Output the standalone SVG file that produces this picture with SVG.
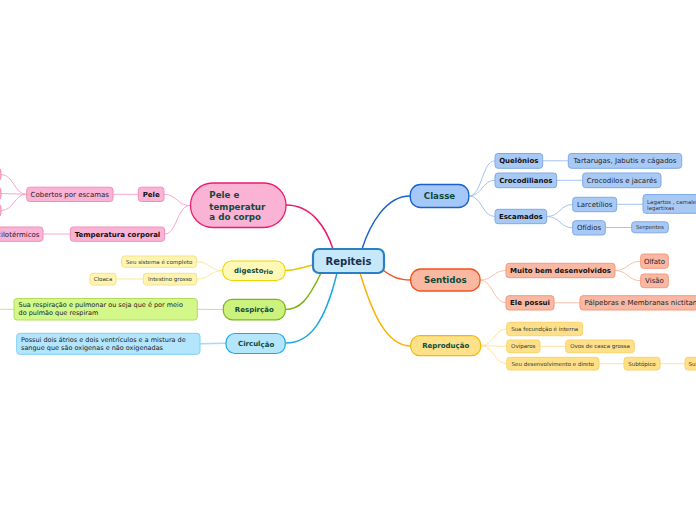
<svg xmlns="http://www.w3.org/2000/svg" width="696" height="520" viewBox="0 0 696 520">
<style>
text{font-family:"DejaVu Sans",Verdana,sans-serif}
.main{font-size:8.7px;font-weight:bold;fill:#0e4a3a}
.mainS{font-size:7px;font-weight:bold;fill:#0e4a3a}
.sb{font-size:7px;font-weight:bold;fill:#111}
.sn{font-size:7px;fill:#222}
.sm{font-size:6.5px;fill:#222}
.xs{font-size:5.5px;fill:#333}
.c{fill:none}
.pinkS{fill:#fbb3d5;stroke:#f48fb8;stroke-width:1}
.blueS{fill:#a9c9f5;stroke:#7fa9e8;stroke-width:1}
.oraS{fill:#f9b8a3;stroke:#f7987c;stroke-width:1}
.yelS{fill:#ffe08a;stroke:#fbd36a;stroke-width:1}
.ylS{fill:#fff5b0;stroke:#f3e38a;stroke-width:1}
.grnS{fill:#d4f78a;stroke:#b2de5a;stroke-width:1}
.cyS{fill:#b3e5fc;stroke:#7fd0f5;stroke-width:1}
</style>
<rect width="696" height="520" fill="#ffffff"/>
<g id="connectors" class="c">
  <path d="M333,249 C326,228 312,205 286,205" stroke="#ec1b6e" stroke-width="1.5"/>
  <path d="M362,249 C370,224 386,196 410,196" stroke="#1a62d0" stroke-width="1.5"/>
  <path d="M380,268 C392,277 398,280 411,280" stroke="#f4511e" stroke-width="1.5"/>
  <path d="M360,273 C372,312 386,346 411,346" stroke="#fbb300" stroke-width="1.5"/>
  <path d="M313,265 C300,268 295,270.5 285,270.5" stroke="#e3c800" stroke-width="1.5"/>
  <path d="M321,273 C308,300 300,309.5 285,309.5" stroke="#7cb518" stroke-width="1.5"/>
  <path d="M337,273 C325,322 310,343 286,343" stroke="#1ea7e0" stroke-width="1.5"/>
  <g stroke="#a6c4ee" stroke-width="1">
    <path d="M469,196 C482,196 482,160.8 495,160.8"/>
    <path d="M469,196 C482,196 482,180.3 495,180.3"/>
    <path d="M469,196 C482,196 482,216.5 495,216.5"/>
    <path d="M542.7,160.8 L568.3,160.8"/>
    <path d="M556.7,180.3 L582.7,180.3"/>
    <path d="M546.7,216.5 C560,216.5 560,204.5 572.7,204.5"/>
    <path d="M546.7,216.5 C560,216.5 560,227.8 572.7,227.8"/>
    <path d="M616.7,204.3 L643,204.3"/>
    <path d="M605.3,227.5 L631.7,227.5"/>
  </g>
  <g stroke="#fcbfa8" stroke-width="1">
    <path d="M480,280 C493,280 493,270.5 506,270.5"/>
    <path d="M480,280 C493,280 493,302.8 506,302.8"/>
    <path d="M615,270.5 C628,270.5 628,261.2 640.7,261.2"/>
    <path d="M615,270.5 C628,270.5 628,280.8 640.7,280.8"/>
    <path d="M554,302.8 L580,302.8"/>
  </g>
  <g stroke="#ffe29c" stroke-width="1">
    <path d="M480.7,345.7 C494,345.7 494,329 506.7,329"/>
    <path d="M480.7,345.7 C494,345.7 494,346.3 506.7,346.3"/>
    <path d="M480.7,345.7 C494,345.7 494,363.7 506.7,363.7"/>
    <path d="M540,346.3 L565.7,346.3"/>
    <path d="M599,363.7 L624,363.7"/>
    <path d="M660,363.7 L685,363.7"/>
  </g>
  <g stroke="#f8a8cb" stroke-width="1">
    <path d="M190,205.5 C177,205.5 177,194.3 164,194.3"/>
    <path d="M190,205.5 C177,205.5 177,234 164.7,234"/>
    <path d="M138,194.3 L113,194.3"/>
    <path d="M26.7,194.3 C14,194.3 14,174.5 1,174.5"/>
    <path d="M26.7,194.3 L1,193.5"/>
    <path d="M26.7,194.3 C14,194.3 14,210.5 1,210.5"/>
    <path d="M70,234 L43,234"/>
  </g>
  <g stroke="#f7eb9e" stroke-width="1">
    <path d="M222.7,270.7 C210,270.7 210,261.7 196.7,261.7"/>
    <path d="M222.7,270.7 C210,270.7 210,279 196.7,279"/>
    <path d="M143.3,279 L116,279"/>
  </g>
  <path d="M223.3,309.5 L197.3,309.3" stroke="#c3e67e" stroke-width="1"/>
  <path d="M14,309.3 L0,309.3" stroke="#c3e67e" stroke-width="1"/>
  <path d="M226,343.3 L200,343.8" stroke="#a2dcf6" stroke-width="1.5"/>
</g>

<g id="repiteis">
  <rect x="313" y="249" width="71" height="24" rx="6" fill="#c6e8fb" stroke="#2b7fc4" stroke-width="2.2"/>
  <text x="348.5" y="264.5" text-anchor="middle" style="font-size:10px;font-weight:bold;fill:#1a2f4f">Repiteis</text>
</g>

<g id="pele-temperatura">
  <rect x="190.5" y="183" width="95.5" height="44.5" rx="22" fill="#fbb3d5" stroke="#ec1b6e" stroke-width="1.3"/>
  <text class="main" x="209.3" y="198.2">Pele e</text>
  <text class="main" x="209.3" y="209.5">temperatur</text>
  <text class="main" x="209.3" y="220">a do corpo</text>
</g>
<g id="pele">
  <rect class="pinkS" x="138.3" y="187.2" width="25.7" height="14.3" rx="3"/>
  <text class="sb" x="151.2" y="196.8" text-anchor="middle">Pele</text>
</g>
<g id="cobertos">
  <rect class="pinkS" x="26.7" y="187.2" width="86.3" height="14.3" rx="3"/>
  <text class="sn" x="69.8" y="196.8" text-anchor="middle">Cobertos por escamas</text>
</g>
<g id="cob-child-1"><rect class="pinkS" x="-60" y="168.5" width="61" height="12" rx="3"/></g>
<g id="cob-child-2"><rect class="pinkS" x="-60" y="187.5" width="61" height="12" rx="3"/></g>
<g id="cob-child-3"><rect class="pinkS" x="-60" y="204.5" width="61" height="12" rx="3"/></g>
<g id="temperatura">
  <rect class="pinkS" x="70.3" y="227" width="94.3" height="14.3" rx="3"/>
  <text class="sb" x="117.5" y="236.6" text-anchor="middle">Temperatura corporal</text>
</g>
<g id="pecilotermicos">
  <rect class="pinkS" x="-30" y="227" width="73" height="14.3" rx="3"/>
  <text class="sn" x="39.5" y="236.6" text-anchor="end">Pecilotérmicos</text>
</g>

<g id="digestorio">
  <rect x="222.7" y="261" width="62.5" height="19.5" rx="9" fill="#fff9b8" stroke="#eed600" stroke-width="1.2"/>
  <text class="mainS" x="234" y="272.5">digesto<tspan dy="1.8" style="font-size:6.2px">rio</tspan></text>
</g>
<g id="seu-sistema">
  <rect class="ylS" x="121.7" y="256" width="75" height="11.3" rx="3"/>
  <text class="xs" x="159.2" y="263.6" text-anchor="middle">Seu sistema é completo</text>
</g>
<g id="intestino">
  <rect class="ylS" x="143.3" y="273.3" width="53.4" height="11.7" rx="3"/>
  <text class="xs" x="170" y="281.1" text-anchor="middle">Intestino grosso</text>
</g>
<g id="cloaca">
  <rect class="ylS" x="90" y="273.3" width="26" height="11.7" rx="3"/>
  <text class="xs" x="103" y="281.1" text-anchor="middle">Cloaca</text>
</g>

<g id="respircao">
  <rect x="223.3" y="299.3" width="62" height="20.5" rx="9" fill="#ccf27e" stroke="#7cb518" stroke-width="1.2"/>
  <text class="mainS" x="254.3" y="312" text-anchor="middle">Respirção</text>
</g>
<g id="respiracao-texto">
  <rect class="grnS" x="14" y="298.5" width="183.3" height="21.5" rx="3"/>
  <text class="sm" x="18.5" y="306.6">Sua respiração e pulmonar ou seja que é por meio</text>
  <text class="sm" x="18.5" y="315">do pulmão que respiram</text>
</g>

<g id="circulcao">
  <rect x="226" y="333.5" width="59.3" height="20" rx="9" fill="#b3e5fc" stroke="#1ea7e0" stroke-width="1.2"/>
  <text class="mainS" x="238" y="345.5">Circul<tspan dy="1">ção</tspan></text>
</g>
<g id="circulacao-texto">
  <rect class="cyS" x="16.7" y="333.3" width="183.3" height="21" rx="3"/>
  <text class="sm" x="21" y="341.6">Possui dois átrios e dois ventrículos e a mistura de</text>
  <text class="sm" x="21" y="350">sangue que são oxigenas e não oxigenadas</text>
</g>

<g id="classe">
  <rect x="410.3" y="184.5" width="58.5" height="23" rx="10" fill="#a5c8f8" stroke="#1a62d0" stroke-width="1.3"/>
  <text class="main" x="439.5" y="199.2" text-anchor="middle">Classe</text>
</g>
<g id="quelonios">
  <rect class="blueS" x="495" y="153.5" width="47.7" height="14.8" rx="3"/>
  <text class="sb" x="518.8" y="163.3" text-anchor="middle">Quelônios</text>
</g>
<g id="tartarugas">
  <rect class="blueS" x="568.3" y="153.5" width="113.4" height="14.8" rx="3"/>
  <text class="sn" x="625" y="163.3" text-anchor="middle">Tartarugas, Jabutis e cágados</text>
</g>
<g id="crocodilianos">
  <rect class="blueS" x="495" y="173" width="61.7" height="14.7" rx="3"/>
  <text class="sb" x="525.8" y="182.8" text-anchor="middle">Crocodilianos</text>
</g>
<g id="crocodilos">
  <rect class="blueS" x="582.7" y="173" width="78.3" height="14.7" rx="3"/>
  <text class="sn" x="621.8" y="182.8" text-anchor="middle">Crocodilos e jacarés</text>
</g>
<g id="escamados">
  <rect class="blueS" x="495" y="209.3" width="51.7" height="14.4" rx="3"/>
  <text class="sb" x="520.8" y="219" text-anchor="middle">Escamados</text>
</g>
<g id="larcetilios">
  <rect class="blueS" x="572.7" y="197.3" width="44" height="14.4" rx="3"/>
  <text class="sn" x="594.7" y="207" text-anchor="middle">Larcetílios</text>
</g>
<g id="lagartos">
  <rect class="blueS" x="643" y="194.5" width="70" height="18.8" rx="3"/>
  <text class="xs" x="647" y="203.5">Lagartos , camaleões e</text>
  <text class="xs" x="647" y="210.2">lagartixas</text>
</g>
<g id="ofidios">
  <rect class="blueS" x="572.7" y="220.7" width="32.6" height="14.3" rx="3"/>
  <text class="sn" x="589" y="230.4" text-anchor="middle">Ofídios</text>
</g>
<g id="serpentes">
  <rect class="blueS" x="631.7" y="221.8" width="36.6" height="11" rx="3"/>
  <text class="xs" x="650" y="229.3" text-anchor="middle">Serpentes</text>
</g>

<g id="sentidos">
  <rect x="410.7" y="269" width="69.3" height="22" rx="10" fill="#fbb8a0" stroke="#f4511e" stroke-width="1.3"/>
  <text class="main" x="445.3" y="283.2" text-anchor="middle">Sentidos</text>
</g>
<g id="muito-bem">
  <rect class="oraS" x="506" y="263.3" width="109" height="14.4" rx="3"/>
  <text class="sb" x="560.5" y="273" text-anchor="middle">Muito bem desenvolvidos</text>
</g>
<g id="olfato">
  <rect class="oraS" x="640.7" y="254" width="27.6" height="14.3" rx="3"/>
  <text class="sn" x="654.5" y="263.6" text-anchor="middle">Olfato</text>
</g>
<g id="visao">
  <rect class="oraS" x="640.7" y="274" width="27.6" height="13.7" rx="3"/>
  <text class="sn" x="654.5" y="283.3" text-anchor="middle">Visão</text>
</g>
<g id="ele-possui">
  <rect class="oraS" x="506" y="295.7" width="48" height="14.3" rx="3"/>
  <text class="sb" x="530" y="305.3" text-anchor="middle">Ele possui</text>
</g>
<g id="palpebras">
  <rect class="oraS" x="580" y="295.7" width="140" height="14.3" rx="3"/>
  <text class="sn" x="584.5" y="305.3">Pálpebras e Membranas nictitantes</text>
</g>

<g id="reproducao">
  <rect x="410.7" y="335.7" width="70" height="20" rx="9" fill="#ffe189" stroke="#f6b800" stroke-width="1.2"/>
  <text class="mainS" x="445.7" y="348.2" text-anchor="middle">Reprodução</text>
</g>
<g id="fecundacao">
  <rect class="yelS" x="506.7" y="322.3" width="76" height="13.4" rx="3"/>
  <text class="xs" x="544.7" y="330.9" text-anchor="middle">Sua fecundção é interna</text>
</g>
<g id="oviparos">
  <rect class="yelS" x="506.7" y="340" width="33.3" height="12.7" rx="3"/>
  <text class="xs" x="523.3" y="348.3" text-anchor="middle">Ovíparos</text>
</g>
<g id="ovos">
  <rect class="yelS" x="565.7" y="340" width="68.6" height="12.7" rx="3"/>
  <text class="xs" x="600" y="348.3" text-anchor="middle">Ovos de casca grossa</text>
</g>
<g id="desenvolvimento">
  <rect class="yelS" x="506.7" y="357.3" width="92.3" height="12.7" rx="3"/>
  <text class="xs" x="552.8" y="365.6" text-anchor="middle">Seu desenvolvimento e direto</text>
</g>
<g id="subtopico-1">
  <rect class="yelS" x="624" y="357.3" width="36" height="12.7" rx="3"/>
  <text class="xs" x="642" y="365.6" text-anchor="middle">Subtópico</text>
</g>
<g id="subtopico-2">
  <rect class="yelS" x="685" y="357.3" width="36" height="12.7" rx="3"/>
  <text class="xs" x="688.5" y="365.6">Subtópico</text>
</g>
</svg>
